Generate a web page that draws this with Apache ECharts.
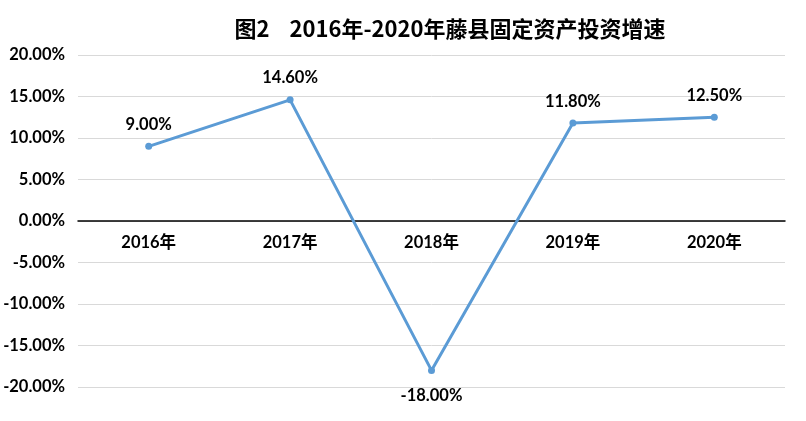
<!DOCTYPE html>
<html><head><meta charset="utf-8">
<script src="https://cdn.jsdelivr.net/npm/echarts@6/dist/echarts.min.js"></script>
<style>html,body{margin:0;padding:0;background:#fff}#c{width:806px;height:421px}</style>
</head><body><div id="c"></div>
<script>
var categories = ['2016年','2017年','2018年','2019年','2020年'];
var growth = [9.00, 14.60, -18.00, 11.80, 12.50];
var titleText = '图2    2016年-2020年藤县固定资产投资增速';
var FONT = 'Lato, "Noto Sans CJK SC", sans-serif';
var labelStyle = {show:true,fontFamily:FONT,fontWeight:700,fontSize:16.5,color:'#000',
  textBorderWidth:0,textBorderColor:'transparent',
  formatter:function(p){return p.value.toFixed(2)+'%';}};
var chart = echarts.init(document.getElementById('c'), null, {renderer:'canvas'});
chart.setOption({
  animation:false,
  backgroundColor:'#fff',
  title:{text:titleText,left:445,top:13,textAlign:'center',
    textStyle:{fontFamily:'"Noto Sans CJK SC", sans-serif',fontWeight:'bold',fontSize:22,color:'#000'}},
  grid:{left:78,right:21,top:55,bottom:34,containLabel:false},
  xAxis:{type:'category',data:categories,boundaryGap:true,position:'bottom',offset:-166,
    axisLine:{onZero:false,lineStyle:{color:'#000',width:1.5}},
    axisTick:{show:false},
    axisLabel:{fontFamily:FONT,fontWeight:'bold',fontSize:16.5,color:'#000',margin:13}},
  yAxis:{type:'value',min:-20,max:20,interval:5,
    axisLine:{show:false},axisTick:{show:false},
    splitLine:{lineStyle:{color:'#d9d9d9',width:1}},
    axisLabel:{fontFamily:FONT,fontWeight:'bold',fontSize:16.5,color:'#000',margin:13,
      formatter:function(v){return v.toFixed(2)+'%';}}},
  series:[{type:'line',data:growth.map(function(v){
      return {value:v,label:Object.assign({},labelStyle,{position:v<0?'bottom':'top',distance:v<0?14:10})};}),
    symbol:'circle',symbolSize:7,
    lineStyle:{color:'#5B9BD5',width:3},
    itemStyle:{color:'#5B9BD5'},
    label:labelStyle}]
});
</script></body></html>
